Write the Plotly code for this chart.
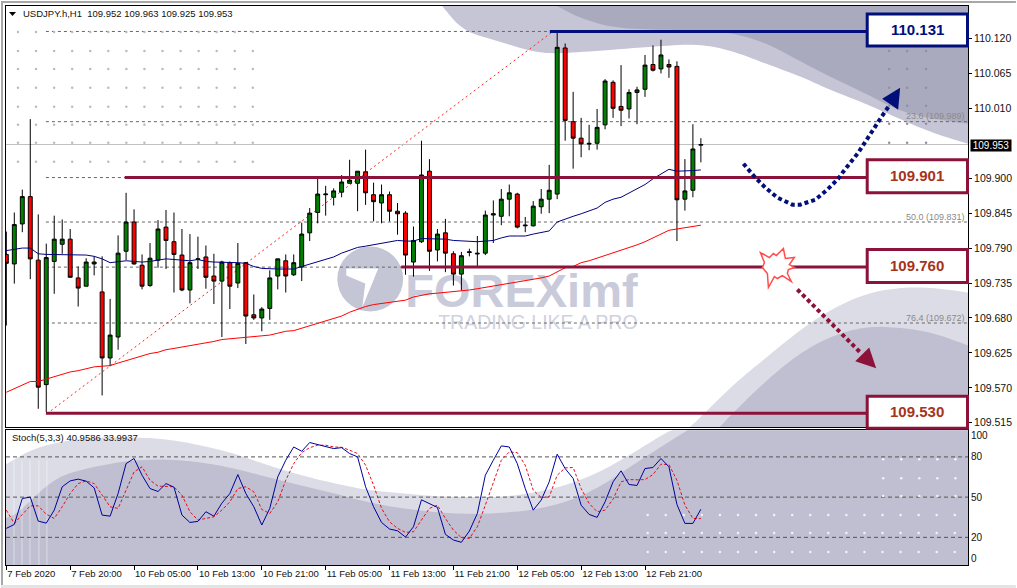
import plotly.graph_objects as go

# USDJPY H1 bars
opens = [109.780, 109.765, 109.828, 109.871, 109.771, 109.575, 109.769, 109.796, 109.804, 109.743, 109.730,
         109.765, 109.721, 109.617, 109.650, 109.785, 109.831, 109.763, 109.731, 109.771, 109.823, 109.800,
         109.779, 109.724, 109.772, 109.776, 109.746, 109.738, 109.767, 109.735, 109.767, 109.685, 109.680,
         109.695, 109.746, 109.770, 109.748, 109.760, 109.814, 109.846, 109.874, 109.870, 109.878, 109.892,
         109.892, 109.910, 109.874, 109.861, 109.874, 109.848, 109.845, 109.768, 109.800, 109.911, 109.787,
         109.814, 109.781, 109.749, 109.783, 109.782, 109.782, 109.842, 109.840, 109.867, 109.875, 109.825,
         109.825, 109.855, 109.867, 109.875, 110.105, 109.989, 109.963, 109.955, 109.955, 109.984, 110.051,
         110.013, 110.009, 110.035, 110.040, 110.079, 110.072, 110.079, 110.076, 109.867, 109.881, 109.952]
highs = [109.816, 109.846, 109.882, 109.993, 109.843, 109.797, 109.841, 109.835, 109.820, 109.761, 109.774,
         109.777, 109.777, 109.710, 109.810, 109.877, 109.851, 109.780, 109.798, 109.834, 109.850, 109.846,
         109.820, 109.812, 109.808, 109.794, 109.781, 109.770, 109.769, 109.798, 109.768, 109.717, 109.697,
         109.755, 109.773, 109.780, 109.780, 109.830, 109.853, 109.899, 109.888, 109.884, 109.905, 109.929,
         109.911, 109.945, 109.893, 109.890, 109.879, 109.861, 109.848, 109.824, 109.959, 109.930, 109.820,
         109.836, 109.785, 109.784, 109.789, 109.809, 109.849, 109.865, 109.883, 109.890, 109.877, 109.839,
         109.864, 109.883, 109.921, 110.131, 110.112, 110.036, 109.995, 109.984, 110.009, 110.056, 110.054,
         110.078, 110.040, 110.044, 110.094, 110.109, 110.118, 110.087, 110.084, 109.930, 109.985, 109.963]
lows = [109.668, 109.734, 109.815, 109.741, 109.537, 109.532, 109.718, 109.781, 109.744, 109.698, 109.730,
        109.747, 109.558, 109.604, 109.630, 109.771, 109.764, 109.725, 109.729, 109.759, 109.757, 109.720,
        109.722, 109.703, 109.757, 109.726, 109.702, 109.650, 109.694, 109.727, 109.639, 109.677, 109.659,
        109.677, 109.725, 109.720, 109.746, 109.738, 109.801, 109.829, 109.841, 109.857, 109.870, 109.892,
        109.848, 109.858, 109.832, 109.829, 109.832, 109.811, 109.748, 109.745, 109.798, 109.754, 109.769,
        109.752, 109.731, 109.723, 109.777, 109.760, 109.779, 109.798, 109.826, 109.840, 109.821, 109.815,
        109.824, 109.844, 109.845, 109.867, 109.959, 109.915, 109.933, 109.944, 109.945, 109.977, 109.995,
        109.982, 109.994, 109.985, 110.028, 110.068, 110.065, 110.058, 109.801, 109.849, 109.870, 109.925]
closes = [109.766, 109.827, 109.871, 109.773, 109.571, 109.775, 109.804, 109.804, 109.744, 109.727, 109.768,
          109.768, 109.617, 109.653, 109.782, 109.831, 109.765, 109.730, 109.774, 109.820, 109.802, 109.780,
          109.724, 109.767, 109.773, 109.744, 109.738, 109.768, 109.730, 109.766, 109.683, 109.680, 109.694,
          109.743, 109.773, 109.746, 109.767, 109.812, 109.845, 109.875, 109.875, 109.880, 109.894, 109.897,
          109.911, 109.877, 109.863, 109.874, 109.848, 109.844, 109.779, 109.802, 109.905, 109.785, 109.812,
          109.782, 109.749, 109.778, 109.784, 109.781, 109.842, 109.844, 109.867, 109.877, 109.823, 109.826,
          109.856, 109.867, 109.881, 110.106, 109.991, 109.963, 109.954, 109.954, 109.980, 110.053, 110.010,
          110.007, 110.035, 110.039, 110.078, 110.070, 110.094, 110.075, 109.866, 109.880, 109.946, 109.953]

ma_blue = [109.786, 109.788, 109.790, 109.790, 109.781, 109.780, 109.780, 109.779, 109.779, 109.779, 109.779,
           109.777, 109.773, 109.767, 109.769, 109.770, 109.769, 109.768, 109.769, 109.771, 109.773, 109.772,
           109.771, 109.770, 109.772, 109.769, 109.768, 109.768, 109.767, 109.767, 109.766, 109.761, 109.758,
           109.757, 109.757, 109.757, 109.757, 109.761, 109.765, 109.769, 109.772, 109.776, 109.782, 109.786,
           109.791, 109.793, 109.795, 109.798, 109.800, 109.802, 109.801, 109.801, 109.805, 109.805, 109.805,
           109.804, 109.802, 109.801, 109.801, 109.800, 109.801, 109.802, 109.806, 109.809, 109.809, 109.809,
           109.812, 109.814, 109.817, 109.831, 109.836, 109.840, 109.844, 109.848, 109.853, 109.862, 109.867,
           109.870, 109.877, 109.883, 109.890, 109.899, 109.906, 109.914, 109.911, 109.911, 109.912, 109.913]
ma_red = [109.563, 109.569, 109.575, 109.580, 109.580, 109.584, 109.588, 109.592, 109.595, 109.597, 109.600,
          109.603, 109.604, 109.605, 109.609, 109.613, 109.617, 109.620, 109.624, 109.626, 109.630, 109.632,
          109.634, 109.637, 109.639, 109.641, 109.643, 109.646, 109.647, 109.648, 109.649, 109.650, 109.651,
          109.653, 109.656, 109.659, 109.660, 109.664, 109.668, 109.671, 109.675, 109.679, 109.683, 109.689,
          109.694, 109.698, 109.701, 109.703, 109.705, 109.707, 109.708, 109.713, 109.716, 109.718, 109.719,
          109.720, 109.721, 109.723, 109.724, 109.726, 109.728, 109.730, 109.732, 109.734, 109.736, 109.738,
          109.740, 109.743, 109.746, 109.753, 109.759, 109.761, 109.767, 109.770, 109.774, 109.778, 109.783,
          109.787, 109.791, 109.795, 109.800, 109.806, 109.811, 109.818, 109.820, 109.822, 109.823, 109.826]

stoch_main = [26.7, 29.6, 49.0, 50.0, 32.1, 30.6, 40.3, 57.7, 62.1, 63.4, 61.9, 56.9, 36.6, 35.8, 52.7, 75.0,
              78.8, 66.3, 56.4, 54.2, 60.1, 57.4, 36.6, 31.1, 31.9, 39.1, 35.8, 45.5, 52.7, 66.8, 52.7, 42.8,
              29.2, 41.6, 65.1, 77.5, 87.4, 84.2, 90.7, 89.2, 87.9, 86.2, 86.9, 82.5, 80.0, 57.7, 42.8, 31.1,
              26.2, 24.9, 20.2, 27.9, 48.0, 45.3, 42.3, 22.2, 18.0, 16.3, 24.7, 37.8, 66.3, 77.5, 88.2, 87.4,
              75.0, 56.4, 40.3, 47.8, 61.4, 82.0, 71.3, 63.9, 44.0, 37.1, 34.9, 46.5, 61.4, 69.6, 59.4, 58.7,
              71.3, 72.1, 78.8, 72.6, 44.5, 30.4, 30.4, 40.9586]
stoch_signal = [40.3, 30.4, 37.1, 43.5, 43.5, 37.3, 34.1, 42.8, 52.7, 60.1, 62.1, 60.1, 51.5, 42.8, 41.6, 55.2,
                68.8, 72.6, 62.6, 58.2, 57.7, 57.7, 51.5, 39.1, 32.9, 34.1, 35.3, 40.3, 46.5, 56.4, 57.7, 54.0,
                40.8, 37.8, 46.5, 62.6, 75.0, 83.2, 86.9, 88.7, 88.7, 87.4, 87.2, 85.0, 82.5, 73.8, 58.9, 41.6,
                31.6, 26.7, 23.7, 24.2, 32.9, 41.6, 44.0, 34.1, 25.4, 19.7, 19.2, 27.9, 44.0, 60.1, 77.5, 83.7,
                83.2, 73.8, 55.2, 49.7, 50.2, 66.3, 71.8, 72.1, 56.4, 45.3, 39.1, 40.3, 48.5, 61.4, 63.1, 62.9,
                63.1, 66.8, 74.5, 74.3, 62.6, 44.0, 34.1, 33.9937]

bars = list(range(len(opens)))
time_ticks = [0, 8, 16, 24, 32, 40, 48, 56, 64, 72, 80]
time_labels = ["7 Feb 2020", "7 Feb 20:00", "10 Feb 05:00", "10 Feb 13:00", "10 Feb 21:00", "11 Feb 05:00",
               "11 Feb 13:00", "11 Feb 21:00", "12 Feb 05:00", "12 Feb 13:00", "12 Feb 21:00"]
price_ticks = [110.120, 110.065, 110.010, 109.900, 109.845, 109.790, 109.735, 109.680, 109.625, 109.570, 109.515]
stoch_ticks = [96.2, 80, 50, 20, 4.6]
stoch_labels = ["100", "80", "50", "20", "0"]
fib_levels = [110.131, 109.989, 109.901, 109.831, 109.760, 109.672]
fib_names = ["", "23.6 (109.989)", "", "50.0 (109.831)", "", "76.4 (109.672)"]
level_prices = [110.131, 109.901, 109.760, 109.530]
level_labels = ["110.131", "109.901", "109.760", "109.530"]
last_price = 109.953

FONT = "Liberation Sans"
NAVY = "#000f7a"
WINE = "#8b1238"
TEXT_RED = "#a5341c"


# pixel helpers for the drawn-on decoration (blobs, arrows, boxes)
def x_of(px):
    return (px - 5.33) / 8


def y_of(py):
    return 110.17893 - 0.00157143 * py


def st_of(py):
    return 80 - (py - 456.7) / 1.3433


def xp(px):
    return (px - 5) / 964


def yp(py):
    return (565 - py) / 560


def pth(points, close=True):
    s = "M " + " L ".join(f"{xp(a):.5f} {yp(b):.5f}" for a, b in points)
    return s + " Z" if close else s


# rounds off a hand-read outline
def soft(points, rounds=3):
    for _ in range(rounds):
        out = [points[0]]
        for (a, b), (c, d) in zip(points, points[1:]):
            out.append((0.75 * a + 0.25 * c, 0.75 * b + 0.25 * d))
            out.append((0.25 * a + 0.75 * c, 0.25 * b + 0.75 * d))
        out.append(points[-1])
        points = out
    return points


def blob(points, color, layer="below", line=None):
    return dict(type="path", xref="paper", yref="paper", path=pth(points), fillcolor=color,
                line=line or dict(width=0), layer=layer)


shapes = []
# watermark blobs, main panel
shapes.append(blob(soft([(442, 5), (463, 30), (497, 40), (530, 50), (553, 53), (597, 50), (663, 45), (700, 43),
                         (733, 50), (767, 63), (800, 75), (833, 90), (867, 103), (900, 118), (933, 132),
                         (969, 143)]) + [(969, 5)], "#c5c5d6"))
shapes.append(blob(soft([(557, 5), (580, 17), (613, 27), (663, 29), (700, 29), (733, 32), (767, 42), (800, 60),
                         (833, 77), (867, 93), (900, 110), (933, 118), (969, 123)]) + [(969, 5)], "#aaaabf"))
shapes.append(blob(soft([(690, 427), (700, 418), (733, 385), (767, 357), (800, 330), (833, 308), (867, 293),
                         (900, 287), (933, 287), (969, 292)]) + [(969, 427)], "#dcdce6"))
shapes.append(blob(soft([(720, 427), (733, 413), (767, 380), (800, 353), (833, 335), (867, 326), (900, 327),
                         (933, 332), (969, 345)]) + [(969, 427)], "#bfbfd1"))
# watermark blobs, stochastic panel
shapes.append(blob([(5, 565)] + soft([(5, 464), (33, 448), (67, 440), (100, 437), (133, 437), (167, 439), (200, 445),
                                      (233, 453), (267, 465), (300, 475), (333, 483), (367, 490), (400, 493),
                                      (433, 496), (467, 497), (500, 497), (533, 493), (567, 485), (600, 472),
                                      (633, 453), (667, 432), (673, 430)]) + [(969, 430), (969, 565)], "#dcdce6"))
shapes.append(blob([(5, 565)] + soft([(5, 518), (17, 513), (33, 497), (50, 482), (67, 473), (100, 465), (133, 460),
                                      (167, 459), (200, 462), (233, 468), (267, 477), (300, 485), (333, 493),
                                      (367, 502), (400, 508), (433, 512), (467, 514), (500, 513), (533, 510),
                                      (567, 502), (600, 487), (633, 465), (667, 443), (688, 430)])
                   + [(969, 430), (969, 565)], "#bfbfd1"))
for px in [13, 21, 29, 38, 46]:
    shapes.append(dict(type="line", xref="paper", yref="paper", x0=xp(px), x1=xp(px), y0=yp(460), y1=yp(565),
                       line=dict(color="rgba(255,255,255,0.45)", width=1), layer="below"))
# logo and wordmark
shapes.append(dict(type="circle", xref="paper", yref="paper", x0=xp(337), x1=xp(403), y0=yp(311), y1=yp(246),
                   fillcolor="#c4c6d6", line=dict(width=0), layer="below"))
shapes.append(blob([(346, 268), (378, 268), (362, 307), (365, 283), (346, 275)], "#ffffff"))
shapes.append(dict(type="rect", xref="paper", yref="paper", x0=xp(395), x1=xp(648), y0=yp(305), y1=yp(268),
                   line=dict(width=0), layer="below",
                   label=dict(text="<b>FOREXimf</b>", textposition="middle center", padding=0,
                              font=dict(family=FONT, size=47, color="#c9cbdb"))))
shapes.append(dict(type="rect", xref="paper", yref="paper", x0=xp(428), x1=xp(648), y0=yp(330), y1=yp(310),
                   line=dict(width=0), layer="below",
                   label=dict(text="TRADING LIKE A PRO", textposition="middle center", padding=0,
                              font=dict(family=FONT, size=19.5, color="#d0d2df"))))

# fibonacci levels and diagonal
for lv in fib_levels:
    shapes.append(dict(type="line", xref="x", yref="y", x0=x_of(45), x1=x_of(969), y0=lv, y1=lv,
                       line=dict(color="#666666", width=1, dash="3px,3px"), layer="below"))
shapes.append(dict(type="line", xref="x", yref="y", x0=x_of(50), x1=x_of(553), y0=109.534, y1=110.131,
                   line=dict(color="#ff2020", width=1, dash="2px,3px"), layer="below"))
shapes.append(dict(type="line", xref="x", yref="y", x0=x_of(5), x1=x_of(969), y0=last_price, y1=last_price,
                   line=dict(color="#c0c0c0", width=1), layer="below"))
for lv in [80, 50, 20]:
    shapes.append(dict(type="line", xref="x2", yref="y2", x0=x_of(5), x1=x_of(969), y0=lv, y1=lv,
                       line=dict(color="#555555", width=1, dash="4px,3px"), layer="below"))

# support / resistance levels with their boxes
level_start = [550, 124, 401, 45]
level_color = [NAVY, WINE, WINE, WINE]
level_text = [NAVY, TEXT_RED, TEXT_RED, TEXT_RED]
level_box = [(13, 45), (159, 192), (249, 282), (396, 428)]
for price, start, col, box in zip(level_prices, level_start, level_color, level_box):
    shapes.append(dict(type="line", xref="x", yref="y", x0=x_of(start), x1=x_of(867), y0=price, y1=price,
                       line=dict(color=col, width=3)))
    shapes.append(dict(type="rect", xref="paper", yref="paper", x0=xp(868), x1=xp(968.5), y0=yp(box[1]), y1=yp(box[0]),
                       fillcolor="white", line=dict(color=col, width=3)))

# dotted arrows
blue_curve = [(744, 163), (755, 176), (766, 187), (778, 197), (793, 204), (801, 204), (816, 199), (828, 189),
              (839, 178), (844, 171), (859, 152), (872, 132), (885, 112), (890, 105)]
shapes.append(dict(type="path", xref="paper", yref="paper", path=pth(blue_curve, close=False),
                   line=dict(color=NAVY, width=4, dash="4px,3px")))
shapes.append(blob([(901, 87), (883, 98), (899, 109)], NAVY, layer="above"))
shapes.append(dict(type="line", xref="paper", yref="paper", x0=xp(798), y0=yp(289), x1=xp(861), y1=yp(352),
                   line=dict(color=WINE, width=4, dash="4px,3px")))
shapes.append(blob([(870, 347), (856, 361), (877, 368)], WINE, layer="above"))
# burst marker
shapes.append(blob([(761, 252), (770, 257), (774, 253), (777, 255), (784, 248), (786, 258), (795, 257), (790, 264),
                    (795, 267), (789, 269), (788, 273), (792, 281), (783, 275), (778, 278), (775, 276), (769, 287),
                    (768, 273), (763, 267), (765, 262)], "#ffffff", layer="above",
                   line=dict(color="#ff4d4d", width=1.5)))
# title triangle
shapes.append(blob([(8, 11), (15, 11), (11.5, 15)], "#000000", layer="above"))
# window border
shapes.append(dict(type="rect", xref="paper", yref="paper", x0=xp(0), x1=xp(2), y0=yp(588), y1=yp(0),
                   fillcolor="#a8a8a8", line=dict(width=0)))
shapes.append(dict(type="rect", xref="paper", yref="paper", x0=xp(0), x1=xp(1017), y0=yp(2), y1=yp(0),
                   fillcolor="#a8a8a8", line=dict(width=0)))
shapes.append(dict(type="rect", xref="paper", yref="paper", x0=xp(0), x1=xp(1017), y0=yp(588), y1=yp(585),
                   fillcolor="#e4e4e4", line=dict(width=0)))

fig = go.Figure()


def dots(xs, ys, color, yaxis="y", conv=y_of):
    px_x = [a for a in xs for _ in ys]
    px_y = [b for _ in xs for b in ys]
    fig.add_trace(go.Scatter(x=[x_of(a) for a in px_x], y=[conv(b) for b in px_y], mode="markers", xaxis="x" if yaxis == "y" else "x2",
                             yaxis=yaxis, marker=dict(color=color, size=2.5), hoverinfo="skip", showlegend=False))


dots([17 + 18.1 * i for i in range(14)], [31, 50, 68, 87, 106, 124, 142, 161], "#b8bbce")
dots([890, 908, 927], [50, 68, 87, 105, 123, 142], "#8f8fa5")
dots([648 + 18.1 * i for i in range(18)], [515, 533, 552], "#f2f2f7", "y2", st_of)
dots([884 + 18.1 * i for i in range(5)], [459, 478, 496], "#f2f2f7", "y2", st_of)

fig.add_trace(go.Candlestick(x=bars, open=opens, high=highs, low=lows, close=closes, whiskerwidth=0,
                             increasing=dict(fillcolor="#008000", line=dict(color="#000000", width=1)),
                             decreasing=dict(fillcolor="#ff0000", line=dict(color="#000000", width=1)),
                             showlegend=False, hoverinfo="skip"))
fig.add_trace(go.Scatter(x=bars, y=ma_blue, mode="lines", line=dict(color="#00007f", width=1),
                         showlegend=False, hoverinfo="skip"))
fig.add_trace(go.Scatter(x=bars, y=ma_red, mode="lines", line=dict(color="#ff0000", width=1),
                         showlegend=False, hoverinfo="skip"))
fig.add_trace(go.Scatter(x=bars, y=stoch_signal, mode="lines", xaxis="x2", yaxis="y2",
                         line=dict(color="#e01020", width=1, dash="3px,2px"), showlegend=False, hoverinfo="skip"))
fig.add_trace(go.Scatter(x=bars, y=stoch_main, mode="lines", xaxis="x2", yaxis="y2",
                         line=dict(color="#00009c", width=1), showlegend=False, hoverinfo="skip"))

annotations = []


def note(px, py, text, anchor="left", size=9.5, color="#111111", **kw):
    annotations.append(dict(xref="paper", yref="paper", x=xp(px), y=yp(py), text=text, showarrow=False,
                            xanchor=anchor, yanchor="middle", font=dict(family=FONT, size=size, color=color), **kw))


note(20, 12.5, "USDJPY.h,H1&nbsp;&nbsp;109.952 109.963 109.925 109.953", size=9.5)
note(9, 437.5, "Stoch(5,3,3) 40.9586 33.9937", size=9.5)
for label, price_y in zip(fib_names, fib_levels):
    if label:
        note(968, (110.17893 - price_y) / 0.00157143 - 5.5, label, "right", 9, "#8a8a8a")
for label, col, box in zip(level_labels, level_text, level_box):
    note(918, (box[0] + box[1]) / 2 - 0.5, f"<b>{label}</b>", "center", 15, col)
note(992, 144.5, "109.953", "center", 10, "#ffffff", bgcolor="#000000", width=40, height=11, borderpad=0)

fig.update_layout(
    width=1017, height=588, margin=dict(l=5, r=48, t=5, b=23), paper_bgcolor="white", plot_bgcolor="white",
    boxgap=0.3, shapes=shapes, annotations=annotations, showlegend=False, hovermode=False,
    font=dict(family=FONT, size=10, color="#111111"),
    xaxis=dict(domain=[0, 1], range=[x_of(5), x_of(969)], anchor="y", showgrid=False, zeroline=False,
               showticklabels=False, ticks="", rangeslider=dict(visible=False), showline=True, mirror=True,
               linecolor="black", linewidth=1),
    yaxis=dict(domain=[(565 - 427) / 560, 1], range=[y_of(427), y_of(5)], anchor="x", side="right", showgrid=False,
               zeroline=False, tickvals=price_ticks, ticktext=[f"{p:.3f}" for p in price_ticks], ticks="outside",
               ticklen=3, tickcolor="black", tickfont=dict(family=FONT, size=10.5, color="#111111"),
               showline=True, mirror=True, linecolor="black", linewidth=1),
    xaxis2=dict(domain=[0, 1], range=[x_of(5), x_of(969)], anchor="y2", showgrid=False, zeroline=False,
                tickvals=time_ticks, ticktext=time_labels, ticks="outside", ticklen=4, tickcolor="black",
                ticklabelposition="outside right", tickangle=0,
                tickfont=dict(family=FONT, size=9.5, color="#111111"), showline=True, mirror=True, linecolor="black",
                linewidth=1),
    yaxis2=dict(domain=[0, (565 - 430) / 560], range=[st_of(565), st_of(430)], anchor="x2", side="right",
                showgrid=False, zeroline=False, tickvals=stoch_ticks, ticktext=stoch_labels, ticks="",
                tickfont=dict(family=FONT, size=10, color="#111111"), showline=True, mirror=True, linecolor="black",
                linewidth=1),
)

fig.write_html("out.html", config={"displayModeBar": False},
               post_script="document.body.style.margin='0';")
